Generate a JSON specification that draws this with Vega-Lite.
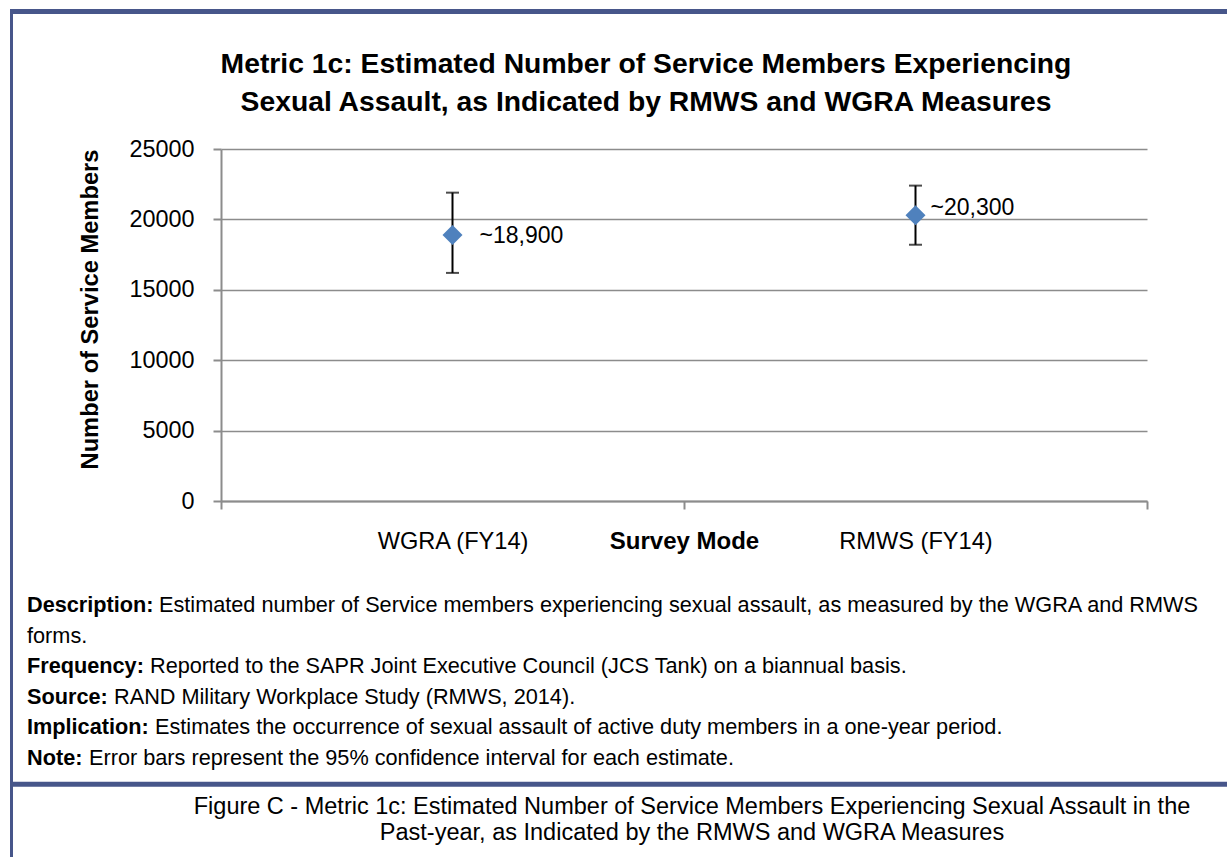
{
  "$schema": "https://vega.github.io/schema/vega-lite/v6.json",
  "background": "white",
  "padding": {"left": 8, "top": 8, "right": 0, "bottom": 0},
  "config": {
    "view": {"stroke": null},
    "font": "Liberation Sans",
    "axis": {
      "labelFont": "Liberation Sans",
      "titleFont": "Liberation Sans",
      "labelColor": "black",
      "titleColor": "black",
      "domainColor": "#8c8c8c",
      "tickColor": "#8c8c8c",
      "domainWidth": 2,
      "tickWidth": 2,
      "tickSize": 8,
      "gridColor": "#8c8c8c",
      "gridWidth": 1.5,
      "titleFontWeight": "bold",
      "titleFontSize": 24
    }
  },
  "bounds": "flush",
  "spacing": 0,
  "hconcat": [
    {
      "width": 3,
      "height": 849,
      "view": {"fill": "#47568a", "stroke": null},
      "data": {"values": [{}]},
      "mark": {"type": "point", "opacity": 0}
    },
    {
      "bounds": "flush",
      "spacing": 135,
      "vconcat": [
        {
          "width": 1216,
          "height": 5,
          "view": {"fill": "#47568a", "stroke": null},
          "data": {"values": [{}]},
          "mark": {"type": "point", "opacity": 0}
        },
        {
          "bounds": "flush",
          "spacing": 88.7,
          "vconcat": [
            {
              "width": 1134,
              "height": 352,
              "title": {
                "text": ["Metric 1c: Estimated Number of Service Members Experiencing", "Sexual Assault, as Indicated by RMWS and WGRA  Measures"],
                "font": "Liberation Sans",
                "fontSize": 28.3,
                "fontWeight": "bold",
                "lineHeight": 38,
                "color": "black",
                "anchor": "middle",
                "frame": "group",
                "dx": 66,
                "offset": 20
              },
              "data": {
                "values": [
                  {"mode": "WGRA (FY14)", "value": 18900, "low": 16200, "high": 21900, "label": "~18,900"},
                  {"mode": "RMWS (FY14)", "value": 20300, "low": 18200, "high": 22400, "label": "~20,300"}
                ]
              },
              "encoding": {
                "x": {
                  "field": "mode",
                  "type": "nominal",
                  "sort": null,
                  "scale": {"paddingInner": 0, "paddingOuter": 0, "range": [208, 1134]},
                  "axis": {
                    "title": "Survey Mode",
                    "labelFontSize": 23.6,
                    "labelAngle": 0,
                    "labelBaseline": "middle",
                    "labelPadding": 32,
                    "titleY": 40,
                    "titleBaseline": "middle",
                    "grid": false,
                    "tickBand": "extent"
                  }
                },
                "y": {
                  "field": "value",
                  "type": "quantitative",
                  "title": "Number of Service Members",
                  "scale": {"domain": [0, 25000], "nice": false},
                  "axis": {
                    "values": [0, 5000, 10000, 15000, 20000, 25000],
                    "format": "d",
                    "offset": -208,
                    "labelFontSize": 23.4,
                    "labelPadding": 19,
                    "labelBaseline": "middle",
                    "grid": true,
                    "titleX": -119,
                    "titleY": 160,
                    "titleBaseline": "bottom",
                    "titleAlign": "center",
                    "titleFontSize": 23.7
                  }
                }
              },
              "layer": [
                {
                  "mark": {
                    "type": "errorbar",
                    "color": "black",
                    "ticks": {"size": 13, "thickness": 2, "color": "black"},
                    "rule": {"strokeWidth": 2, "color": "black"}
                  },
                  "encoding": {
                    "y": {
                      "field": "low",
                      "type": "quantitative",
                      "title": "Number of Service Members",
                      "scale": {"domain": [0, 25000], "nice": false},
                      "axis": {
                        "values": [0, 5000, 10000, 15000, 20000, 25000],
                        "format": "d",
                        "offset": -208,
                        "labelFontSize": 23.4,
                        "labelPadding": 19,
                        "labelBaseline": "middle",
                        "grid": true,
                        "titleX": -119,
                        "titleY": 160,
                        "titleBaseline": "bottom",
                        "titleAlign": "center",
                        "titleFontSize": 23.7
                      }
                    },
                    "y2": {"field": "high"}
                  }
                },
                {
                  "mark": {"type": "point", "shape": "diamond", "filled": true, "size": 400, "color": "#4f81bd", "opacity": 1}
                },
                {
                  "transform": [{"filter": "datum.mode === 'WGRA (FY14)'"}],
                  "mark": {"type": "text", "align": "left", "baseline": "middle", "dx": 27, "dy": 1, "font": "Liberation Sans", "fontSize": 23, "color": "black"},
                  "encoding": {"text": {"field": "label"}}
                },
                {
                  "transform": [{"filter": "datum.mode === 'RMWS (FY14)'"}],
                  "mark": {"type": "text", "align": "left", "baseline": "middle", "dx": 15, "dy": -7, "font": "Liberation Sans", "fontSize": 23, "color": "black"},
                  "encoding": {"text": {"field": "label"}}
                }
              ]
            },
            {
              "bounds": "flush",
              "spacing": 0,
              "vconcat": [
                {
                  "width": 1216,
                  "height": 191.3,
                  "data": {
                    "values": [
                      {"n": 1, "label": "Description:", "body": "Estimated number of Service members experiencing sexual assault, as measured by the WGRA and RMWS"},
                      {"n": 2, "label": "", "body": "forms."},
                      {"n": 3, "label": "Frequency:", "body": "Reported to the SAPR Joint Executive Council (JCS Tank) on a biannual basis."},
                      {"n": 4, "label": "Source:", "body": "RAND Military Workplace Study (RMWS, 2014)."},
                      {"n": 5, "label": "Implication:", "body": "Estimates the occurrence of sexual assault of active duty members in a one-year period."},
                      {"n": 6, "label": "Note:", "body": "Error bars represent the 95% confidence interval for each estimate."}
                    ]
                  },
                  "encoding": {
                    "y": {"field": "n", "type": "ordinal", "scale": {"type": "point", "padding": 0.626, "align": 0.4}, "axis": null},
                    "x": {"datum": 0, "type": "quantitative", "scale": {"domain": [0, 1]}, "axis": null}
                  },
                  "layer": [
                    {
                      "mark": {"type": "text", "align": "left", "baseline": "middle", "dx": 14, "font": "Liberation Sans", "fontSize": 21.7, "fontWeight": "bold", "color": "black"},
                      "encoding": {"text": {"field": "label"}}
                    },
                    {
                      "transform": [{"filter": "datum.n === 1"}],
                      "mark": {"type": "text", "align": "left", "baseline": "middle", "dx": 146, "font": "Liberation Sans", "fontSize": 21.7, "color": "black"},
                      "encoding": {"text": {"field": "body"}}
                    },
                    {
                      "transform": [{"filter": "datum.n === 2"}],
                      "mark": {"type": "text", "align": "left", "baseline": "middle", "dx": 14, "font": "Liberation Sans", "fontSize": 21.7, "color": "black"},
                      "encoding": {"text": {"field": "body"}}
                    },
                    {
                      "transform": [{"filter": "datum.n === 3"}],
                      "mark": {"type": "text", "align": "left", "baseline": "middle", "dx": 137, "font": "Liberation Sans", "fontSize": 21.7, "color": "black"},
                      "encoding": {"text": {"field": "body"}}
                    },
                    {
                      "transform": [{"filter": "datum.n === 4"}],
                      "mark": {"type": "text", "align": "left", "baseline": "middle", "dx": 101, "font": "Liberation Sans", "fontSize": 21.7, "color": "black"},
                      "encoding": {"text": {"field": "body"}}
                    },
                    {
                      "transform": [{"filter": "datum.n === 5"}],
                      "mark": {"type": "text", "align": "left", "baseline": "middle", "dx": 142, "font": "Liberation Sans", "fontSize": 21.7, "color": "black"},
                      "encoding": {"text": {"field": "body"}}
                    },
                    {
                      "transform": [{"filter": "datum.n === 6"}],
                      "mark": {"type": "text", "align": "left", "baseline": "middle", "dx": 76, "font": "Liberation Sans", "fontSize": 21.7, "color": "black"},
                      "encoding": {"text": {"field": "body"}}
                    }
                  ]
                },
                {
                  "width": 1216,
                  "height": 5,
                  "view": {"fill": "#47568a", "stroke": null},
                  "data": {"values": [{}]},
                  "mark": {"type": "point", "opacity": 0}
                },
                {
                  "width": 1216,
                  "height": 72,
                  "data": {
                    "values": [
                      {"n": 1, "caption": "Figure C - Metric 1c: Estimated Number of Service Members Experiencing Sexual Assault in the"},
                      {"n": 2, "caption": "Past-year, as Indicated by the RMWS and WGRA Measures"}
                    ]
                  },
                  "mark": {"type": "text", "align": "center", "baseline": "middle", "dx": 71, "font": "Liberation Sans", "fontSize": 23.5, "color": "black"},
                  "encoding": {
                    "y": {"field": "n", "type": "ordinal", "scale": {"type": "point", "padding": 0.885, "align": 0.435}, "axis": null},
                    "x": {"datum": 0.5, "type": "quantitative", "scale": {"domain": [0, 1]}, "axis": null},
                    "text": {"field": "caption"}
                  }
                }
              ]
            }
          ]
        }
      ]
    }
  ]
}
